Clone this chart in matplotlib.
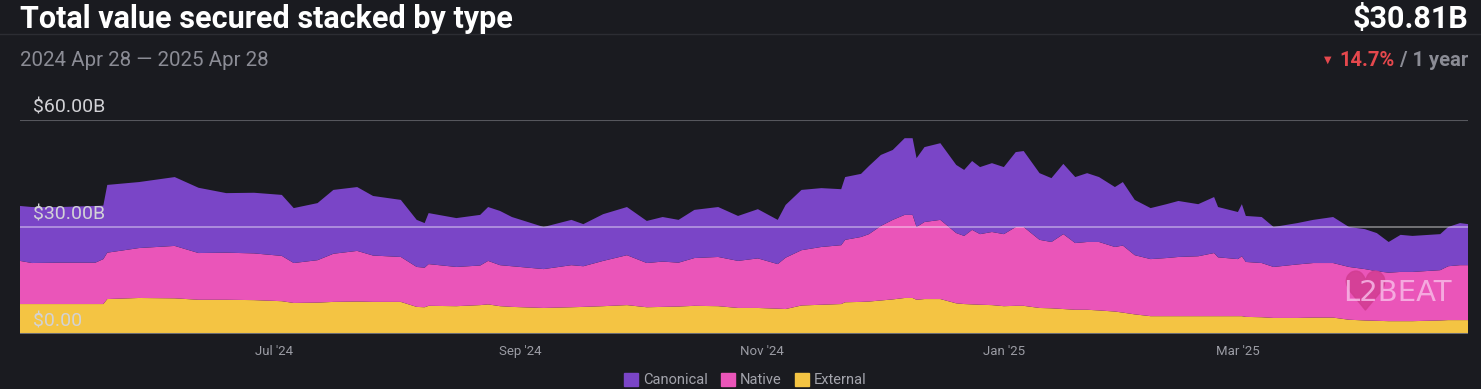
import numpy as np
import matplotlib.pyplot as plt
from matplotlib.lines import Line2D
from matplotlib.patches import FancyBboxPatch

plt.rcParams['font.family'] = ['Roboto', 'DejaVu Sans']

start = np.datetime64('2024-04-28')

# days since 2024-04-28
days = [0, 3, 10, 19, 21, 22, 30, 39, 45, 52, 59, 66, 69, 75, 79, 85, 89, 96, 100,
        102, 103, 110, 116, 118, 121, 124, 132, 139, 142, 147, 153, 158, 162, 166,
        170, 176, 181, 186, 191, 193, 197, 202, 207, 208, 212, 214, 217, 220, 223,
        225, 226, 228, 232, 236, 238, 240, 242, 245, 248, 251, 253, 257, 260, 263,
        266, 269, 272, 276, 278, 281, 285, 289, 292, 297, 301, 302, 307, 308, 309,
        313, 316, 322, 326, 331, 335, 339, 342, 345, 348, 351, 358, 360, 363, 365]

# stacked totals ($B)
total = [35.9, 35.6, 35.6, 35.9, 36.0, 41.8, 42.6, 44.0, 41.0, 39.5, 39.6, 39.0, 35.3,
         36.7, 40.4, 41.2, 38.7, 37.6, 32.0, 31.1, 33.9, 32.5, 33.4, 35.6, 34.5, 32.8,
         30.0, 32.0, 30.8, 33.6, 35.6, 31.7, 32.8, 32.0, 34.8, 35.6, 33.1, 35.0, 32.0,
         36.2, 40.4, 40.9, 40.6, 44.0, 44.9, 47.1, 50.2, 51.6, 54.9, 54.9, 49.3, 52.4,
         53.5, 47.4, 46.0, 48.5, 46.8, 47.9, 46.8, 51.0, 51.3, 45.1, 43.7, 47.7, 44.0,
         45.1, 44.0, 41.2, 42.6, 37.6, 35.3, 36.4, 37.3, 36.4, 38.4, 35.6, 34.2, 36.4,
         33.1, 32.8, 30.0, 31.1, 32.0, 32.8, 30.0, 29.4, 28.3, 25.8, 27.8, 27.5, 28.0,
         30.0, 31.1, 30.81]
native_top = [20.5, 19.9, 20.0, 20.0, 21.0, 22.8, 24.1, 24.7, 22.7, 22.8, 22.6, 21.9,
              19.9, 20.7, 22.5, 23.3, 22.0, 21.6, 18.8, 18.6, 19.6, 18.8, 19.2, 20.5,
              19.3, 19.0, 18.2, 19.3, 19.0, 20.5, 22.1, 19.9, 20.3, 20.0, 21.3, 21.6,
              20.5, 21.2, 19.6, 21.4, 23.5, 24.4, 24.9, 26.4, 27.2, 28.0, 30.3, 32.0,
              33.4, 33.4, 30.0, 31.4, 32.0, 28.3, 27.5, 29.2, 28.0, 28.6, 28.0, 30.0,
              30.0, 26.4, 25.8, 28.0, 25.5, 25.8, 25.8, 24.4, 24.8, 22.1, 21.0, 21.3,
              21.6, 21.8, 22.7, 21.5, 21.0, 21.8, 20.2, 19.9, 18.8, 19.5, 19.9, 19.9,
              18.8, 18.2, 17.6, 17.2, 17.4, 17.4, 17.9, 19.0, 19.3, 19.3]
external = [8.4, 8.4, 8.4, 8.4, 8.4, 9.8, 10.1, 10.0, 9.6, 9.6, 9.5, 9.2, 8.7, 8.8,
            9.0, 9.1, 9.0, 9.0, 7.6, 7.5, 7.9, 7.8, 8.1, 8.3, 7.8, 7.6, 7.3, 7.5, 7.6,
            7.8, 8.1, 7.5, 7.6, 7.7, 7.9, 7.8, 7.3, 7.3, 7.1, 7.0, 8.0, 8.2, 8.4, 8.9,
            9.0, 9.1, 9.4, 9.7, 10.1, 10.1, 9.6, 9.8, 9.8, 8.6, 8.4, 8.3, 8.2, 8.1,
            7.8, 7.9, 7.9, 7.3, 7.2, 7.0, 6.8, 6.8, 6.6, 6.3, 6.0, 5.5, 5.0, 5.0, 5.0,
            5.0, 5.0, 5.0, 5.0, 5.0, 4.8, 4.7, 4.5, 4.5, 4.6, 4.6, 4.0, 3.8, 3.7, 3.6,
            3.6, 3.6, 3.8, 3.9, 3.9, 3.9]

native = np.array(native_top) - np.array(external)
canonical = np.array(total) - np.array(native_top)

labels = ['Canonical', 'Native', 'External']
colors = ['#7a45c7', '#ea55b9', '#f4c443']
bg = '#1a1b20'

dates = start + np.array(days).astype('timedelta64[D]')
tick_dates = np.array(['2024-07-01', '2024-09-01', '2024-11-01', '2025-01-01', '2025-03-01'],
                      dtype='datetime64[D]')
tick_labels = ["Jul '24", "Sep '24", "Nov '24", "Jan '25", "Mar '25"]

fig = plt.figure(figsize=(14.81, 3.89), dpi=100)
fig.patch.set_facecolor(bg)
ax = fig.add_axes([20/1481, 55/389, 1448/1481, 214/389])
ax.set_facecolor(bg)

ax.stackplot(dates, external, native, canonical,
             colors=[colors[2], colors[1], colors[0]], linewidth=0)

ax.set_xlim(start, start + np.timedelta64(365, 'D'))
ax.set_ylim(0, 60)
ax.axhline(60, color='#56575d', lw=1.5, zorder=3)
ax.axhline(30, color='white', alpha=0.45, lw=1.2, zorder=3)
ax.axhline(0, color='#6b6c72', lw=1.5, zorder=3)

for v, s in [(60, '$60.00B'), (30, '$30.00B'), (0, '$0.00')]:
    ax.text(13/1448, v + 1.0, s, transform=ax.get_yaxis_transform(), color='#d2d2d6',
            fontsize=14, va='bottom', ha='left', zorder=4, clip_on=False)

ax.set_yticks([])
ax.set_xticks(tick_dates)
ax.set_xticklabels(tick_labels, color='#9b9ca4', fontsize=9.5)
ax.tick_params(axis='x', length=0, pad=8)
for s in ax.spines.values():
    s.set_visible(False)

# watermark: heart mark behind the L
ax.plot([0.929], [0.205], marker='$\u2665$', markersize=28, color='#d23d92', alpha=0.85,
        transform=ax.transAxes, zorder=2, linestyle='none')
ax.text(0.989, 0.19, 'L2BEAT', transform=ax.transAxes, ha='right', va='center',
        fontsize=21, color='#f7b9e6', alpha=0.85,
        family='DejaVu Sans Condensed', zorder=2.5)

# header
fig.text(20/1481, 1 - 19/389, 'Total value secured stacked by type', color='white',
         fontsize=22, fontweight='bold', va='center', ha='left')
fig.text(1468/1481, 1 - 19/389, '$30.81B', color='white', fontsize=22,
         fontweight='bold', va='center', ha='right')
fig.add_artist(Line2D([0, 1], [1 - 34/389, 1 - 34/389], color='#2c2d33', lw=1))
fig.text(20/1481, 1 - 60/389, '2024 Apr 28 \u2014 2025 Apr 28', color='#8b8c95',
         fontsize=14.8, va='center', ha='left')
t1 = fig.text(1468/1481, 1 - 60/389, ' / 1 year', color='#8b8c95', fontsize=14.5,
              fontweight='bold', va='center', ha='right')
fig.canvas.draw()
bb = t1.get_window_extent()
t2 = fig.text(bb.x0/1481, 1 - 60/389, '14.7%', color='#e5484d', fontsize=14.5,
              fontweight='bold', va='center', ha='right')
bb2 = t2.get_window_extent()
fig.text((bb2.x0 - 8)/1481, 1 - 60/389, '\u25bc', color='#e5484d', fontsize=7,
         va='center', ha='right', family='DejaVu Sans')

# legend
handles = [FancyBboxPatch((0, 0), 1, 1, boxstyle='round,pad=0.1', color=c) for c in colors]
leg = fig.legend(handles, labels, loc='center', bbox_to_anchor=(745/1481, 1 - 380/389),
                 ncol=3, frameon=False, fontsize=10.5, labelcolor='#a3a4ac',
                 handlelength=1.0, handleheight=1.0, handletextpad=0.3, columnspacing=0.9)

fig.savefig('out.png', facecolor=bg)
